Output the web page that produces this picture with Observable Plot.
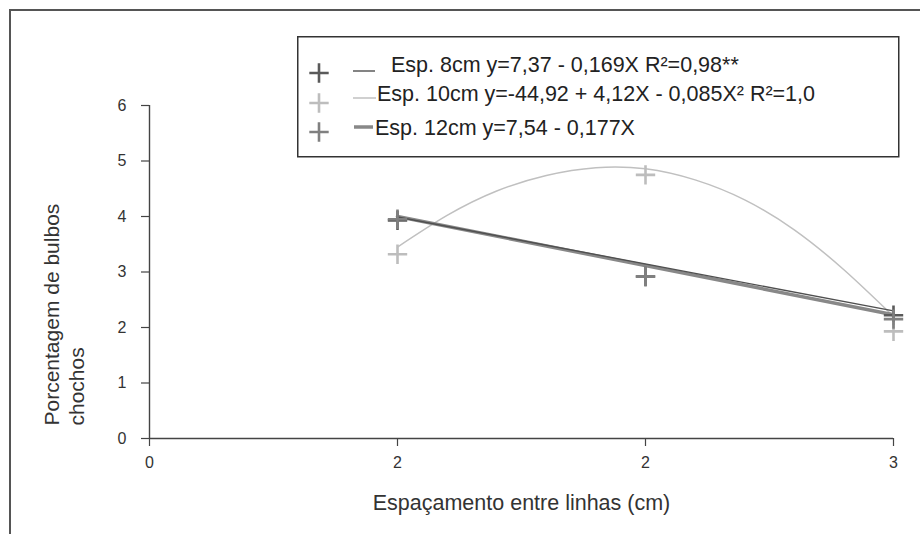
<!DOCTYPE html>
<html><head><meta charset="utf-8">
<script src="https://cdn.jsdelivr.net/npm/d3@7"></script>
<script src="https://cdn.jsdelivr.net/npm/@observablehq/plot@0.6"></script>
<style>
body{margin:0;background:#fff;font-family:"Liberation Sans",Arial,sans-serif;}
#wrap{position:relative;width:920px;height:534px;overflow:hidden;background:#fff;}
#chart{position:absolute;left:0;top:0;}
#frame{position:absolute;left:9px;top:9px;width:940px;height:560px;border-top:2px solid #555;border-left:2px solid #555;pointer-events:none;}
#legend{position:absolute;left:297px;top:36px;}
</style></head><body>
<div id="wrap"><div id="chart"></div><div id="frame"></div><svg id="legend" width="603" height="123"></svg></div>
<script>
// ---- data ----
const xValues = [20, 25, 30];
const esp8 = [3.93, 2.92, 2.22];
const esp10 = [3.32, 4.75, 1.93];
const esp12 = [3.95, 2.92, 2.15];
// fitted lines as drawn in the reference
const trendX = [20, 30];
const trend8Y = [3.99, 2.30];
const trend12Y = [4.00, 2.23];
const curve10X = [20, 21, 22, 23, 24, 25, 26, 27, 28, 29, 30];
const curve10Y = [3.45, 4.02, 4.46, 4.74, 4.88, 4.86, 4.66, 4.30, 3.76, 3.04, 2.20];
const xTicks = [15, 20, 25, 30];
const xTickLabels = ["0", "2", "2", "3"];
const yTicks = [0, 1, 2, 3, 4, 5, 6];
const seriesNames = ["Esp. 8cm", "Esp. 10cm", "Esp. 12cm"];
const legendLabels = [
  " Esp. 8cm y=7,37 - 0,169X R²=0,98**",
  "Esp. 10cm y=-44,92 + 4,12X - 0,085X² R²=1,0",
  "Esp. 12cm y=7,54 - 0,177X"
];
const xTitle = "Espaçamento entre linhas (cm)";
const yTitle = "Porcentagem de bulbos\nchochos";

// ---- styles ----
const markerColor = {"Esp. 8cm": "#5a5a5a", "Esp. 10cm": "#bdbdbd", "Esp. 12cm": "#808080"};
const lineStyle = [
  {stroke: "#505050", width: 1.4},
  {stroke: "#c0c0c0", width: 1.5},
  {stroke: "#888888", width: 3.5}
];
const plusR = 6.3;

const points = [esp8, esp10, esp12].flatMap((ys, s) =>
  xValues.map((x, i) => ({x, y: ys[i], series: seriesNames[s]})));
const t8 = trendX.map((x, i) => ({x, y: trend8Y[i]}));
const t12 = trendX.map((x, i) => ({x, y: trend12Y[i]}));
const c10 = curve10X.map((x, i) => ({x, y: curve10Y[i]}));
const tickLabel = new Map(xTicks.map((t, i) => [t, xTickLabels[i]]));

const plot = Plot.plot({
  width: 920, height: 534,
  marginLeft: 149, marginRight: 27, marginTop: 105, marginBottom: 96,
  x: {type: "linear", domain: [15, 30]},
  y: {domain: [0, 6]},
  style: {fontFamily: "'Liberation Sans', Arial, sans-serif", fontSize: "16px", color: "#333", background: "transparent", overflow: "visible"},
  marks: [
    Plot.axisY({ticks: yTicks, tickFormat: d => String(d), tickSize: 8, tickPadding: 15, fontSize: 16, label: null, stroke: "#444", strokeWidth: 1.2}),
    Plot.axisX({ticks: xTicks, tickFormat: d => tickLabel.get(d), tickSize: 8, tickPadding: 10, fontSize: 16, label: null, stroke: "#444", strokeWidth: 1.2}),
    Plot.ruleY([0], {stroke: "#444", strokeWidth: 1.4}),
    Plot.ruleX([15], {stroke: "#444", strokeWidth: 1.4}),
    Plot.line(c10, {x: "x", y: "y", curve: "natural", stroke: lineStyle[1].stroke, strokeWidth: lineStyle[1].width}),
    Plot.line(t12, {x: "x", y: "y", stroke: lineStyle[2].stroke, strokeWidth: lineStyle[2].width}),
    Plot.line(t8, {x: "x", y: "y", stroke: lineStyle[0].stroke, strokeWidth: lineStyle[0].width}),
    Plot.dot(points, {x: "x", y: "y", symbol: "plus", r: plusR, stroke: d => markerColor[d.series], strokeWidth: 2.6}),
    Plot.text([yTitle], {text: d => d, frameAnchor: "bottom-left", rotate: -90, textAnchor: "start", lineHeight: 1.15, dx: -66, dy: -13, fontSize: 21, fill: "#333"}),
    Plot.text([xTitle], {text: d => d, frameAnchor: "bottom", dy: 71, fontSize: 21.5, fill: "#333"})
  ]
});
document.getElementById("chart").appendChild(plot);

// ---- legend ----
const lg = d3.select("#legend");
lg.append("rect").attr("x", 0.75).attr("y", 0.75).attr("width", 601).attr("height", 120)
  .attr("fill", "#fff").attr("stroke", "#333").attr("stroke-width", 1.5);
const rowMarkerY = [37, 67, 96];
const rowSampleY = [35, 62, 91];
const rowSampleX = [[56, 78], [56, 79], [57, 76]];
const rowTextX = [88, 80, 78];
const rowTextY = [36, 65, 99];
const plusPath = d3.symbol(d3.symbolPlus, Math.PI * plusR * plusR)();
seriesNames.forEach((s, i) => {
  lg.append("path").attr("d", plusPath).attr("transform", `translate(22,${rowMarkerY[i]})`)
    .attr("fill", "none").attr("stroke", markerColor[s]).attr("stroke-width", 2.6);
  lg.append("line").attr("x1", rowSampleX[i][0]).attr("x2", rowSampleX[i][1])
    .attr("y1", rowSampleY[i]).attr("y2", rowSampleY[i])
    .attr("stroke", lineStyle[i].stroke).attr("stroke-width", lineStyle[i].width);
  lg.append("text").attr("x", rowTextX[i]).attr("y", rowTextY[i])
    .attr("font-family", "'Liberation Sans', Arial, sans-serif").attr("font-size", 21.5)
    .attr("fill", "#222").attr("xml:space", "preserve").style("white-space", "pre")
    .text(legendLabels[i]);
});
</script>
</body></html>
